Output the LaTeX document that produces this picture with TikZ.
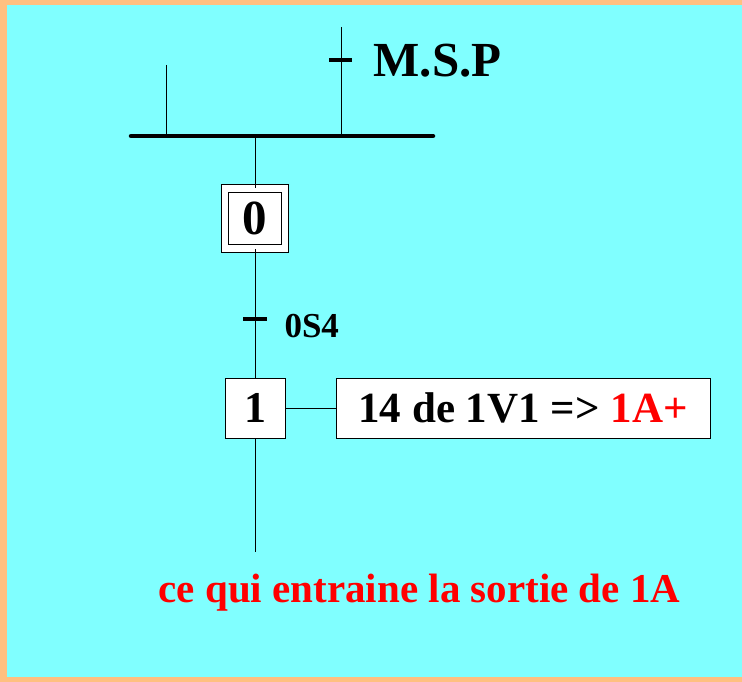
\documentclass[tikz,border=0pt]{standalone}
\usepackage{fontspec}
\setmainfont{Liberation Serif}
\usetikzlibrary{positioning}
\definecolor{fond}{RGB}{128,255,255}
\definecolor{cadre}{RGB}{255,192,128}

\begin{document}
\begin{tikzpicture}[x=1pt,y=-1pt,node distance=189.5pt,line width=1pt]
\tikzstyle{etape}=[draw=black,fill=white,minimum size=60pt,inner sep=0pt,font=\bfseries\fontsize{44}{44}\selectfont]
\tikzstyle{action}=[draw=black,fill=white,minimum width=374pt,minimum height=60pt,inner sep=0pt,font=\bfseries\fontsize{43}{43}\selectfont]
\tikzstyle{recept}=[line width=4.5pt]
\tikzstyle{lbl}=[inner sep=0pt,font=\bfseries\fontsize{35}{35}\selectfont]
% fond
\fill[cadre] (0,0) rectangle (742,682);
\fill[fond] (7,5) rectangle (742,677);
\useasboundingbox (0,0) rectangle (742,682);
% barre de synchronisation
\coordinate (BG) at (131,136);
\coordinate (BD) at (433,136);
\coordinate (B0) at (255,136);
\coordinate (BL) at (166,136);
\coordinate (BR) at (341,136);
\coordinate (HL) at (166,65);
\coordinate (HR) at (341,27);
\draw[recept,line cap=round] (BG) -- (BD);
\draw (HL) -- (BL);
\draw (HR) -- (BR);
\draw[recept] (329,60) -- (352,60);
\node[lbl,anchor=base west,font=\bfseries\fontsize{49}{49}\selectfont] (MSP) at (373,77) {M.S.P};
% etapes
\node[etape,double,double distance=6.5pt,font=\bfseries\fontsize{49}{49}\selectfont] (E0) at (255,218.5) {0};
\node[etape] [below of=E0] (E1) {1};
\node[action] [right of=E1,node distance=268pt] (A1) {14 de 1V1 => \textcolor{red}{1A+}};
\coordinate (F) at (255,552);
\path[draw] (B0) -- (E0)
            (E0) -- (E1)
            (E1) -- (F)
            (E1) -- (A1);
% transition
\draw[recept] (243,319) -- (267,319);
\node[lbl,anchor=base west] (T0) at (284,337) {0S4};
\node[anchor=base,inner sep=0pt,text=red,font=\bfseries\fontsize{41}{41}\selectfont] (C) at (419.5,602) {ce qui entraine la sortie de 1A};
\end{tikzpicture}
\end{document}
